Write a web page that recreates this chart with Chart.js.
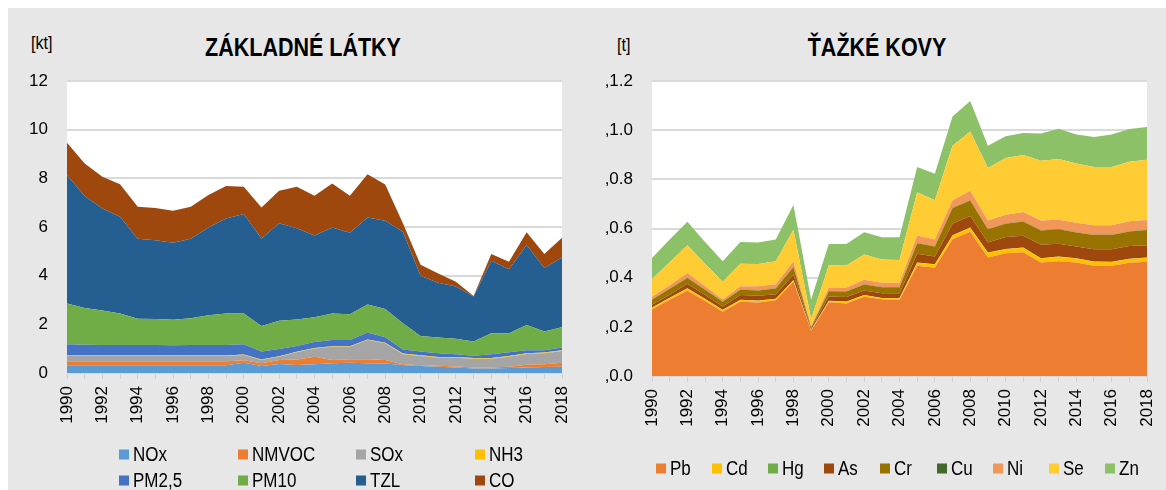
<!DOCTYPE html>
<html>
<head>
<meta charset="utf-8">
<script src="https://cdn.jsdelivr.net/npm/chart.js@4.4.1/dist/chart.umd.min.js"></script>
<style>
  html, body { margin: 0; padding: 0; background: #ffffff; width: 1166px; height: 490px; overflow: hidden; }
  #panel { position: absolute; left: 8px; top: 8px; width: 1158px; height: 482px; background: #e7e7e7; }
  .abs { position: absolute; font-family: "Liberation Sans", Arial, sans-serif; color: #000; white-space: nowrap; }
  .title { font-weight: bold; font-size: 25px; transform: translate(-50%, -50%) scaleX(0.86); }
  .unit { font-size: 19px; transform-origin: left center; transform: translateY(-50%) scaleX(0.85); }
  canvas { position: absolute; }
  .leg { position: absolute; font-family: "Liberation Sans", Arial, sans-serif; font-size: 20px; color: #000; display: flex; align-items: center; white-space: nowrap; transform: translateY(-50%); }
  .leg i { display: inline-block; width: 10px; height: 10px; margin-right: 4px; flex: none; }
  .leg span { display: inline-block; transform-origin: left center; transform: scaleX(0.85); }
</style>
</head>
<body>
<div id="panel"></div>
<div class="abs unit" style="left:31px; top:43px;">[kt]</div>
<div class="abs title" style="left:303px; top:47px;">ZÁKLADNÉ LÁTKY</div>
<div class="abs unit" style="left:617px; top:45px;">[t]</div>
<div class="abs title" style="left:877px; top:47px;">ŤAŽKÉ KOVY</div>
<canvas id="c1" width="572" height="385" style="left:8px; top:60px; width:572px; height:385px;"></canvas>
<canvas id="c2" width="581" height="385" style="left:585px; top:60px; width:581px; height:385px;"></canvas>
<div id="legends"></div>
<script>
const years = ['1990','1991','1992','1993','1994','1995','1996','1997','1998','1999','2000','2001','2002','2003','2004','2005','2006','2007','2008','2009','2010','2011','2012','2013','2014','2015','2016','2017','2018'];

// Left chart: ZÁKLADNÉ LÁTKY [kt]
const nox   = [.32,.32,.32,.32,.32,.32,.32,.32,.32,.32,.42,.29,.37,.33,.36,.40,.42,.40,.39,.33,.29,.26,.23,.18,.18,.21,.23,.25,.26];
const nmvoc = [.16,.16,.16,.16,.16,.16,.16,.16,.16,.16,.10,.11,.16,.22,.31,.13,.14,.16,.14,.03,.03,.04,.04,.05,.05,.05,.11,.11,.16];
const sox   = [.22,.22,.22,.22,.22,.22,.22,.22,.22,.22,.22,.13,.14,.30,.34,.55,.52,.80,.69,.41,.38,.33,.36,.36,.36,.41,.44,.45,.48];
const nh3   = [.02,.02,.02,.02,.02,.02,.02,.02,.02,.02,.02,.02,.02,.02,.02,.02,.02,.02,.02,.03,.03,.03,.03,.03,.03,.03,.03,.03,.03];
const pm25  = [.46,.44,.43,.43,.43,.43,.42,.43,.43,.43,.42,.33,.30,.24,.24,.26,.26,.28,.23,.17,.15,.15,.11,.09,.15,.15,.13,.10,.12];
const pm10  = [1.68,1.51,1.42,1.30,1.08,1.07,1.05,1.10,1.22,1.30,1.27,1.05,1.16,1.09,1.02,1.09,1.05,1.15,1.16,1.07,.64,.65,.64,.58,.86,.78,1.03,.77,.83];
const tzl   = [5.27,4.60,4.19,3.97,3.29,3.24,3.16,3.27,3.61,3.90,4.08,3.60,4.00,3.75,3.36,3.53,3.35,3.58,3.63,3.76,2.48,2.25,2.14,1.85,2.98,2.63,3.29,2.60,2.87];
const co    = [1.33,1.34,1.30,1.34,1.31,1.32,1.32,1.31,1.33,1.33,1.12,1.27,1.34,1.70,1.63,1.81,1.52,1.78,1.49,.35,.45,.38,.20,.02,.28,.31,.52,.58,.81];

// Right chart: ŤAŽKÉ KOVY [t]
const pb = [.271,.310,.347,.305,.261,.302,.299,.308,.383,.184,.300,.295,.322,.312,.309,.448,.440,.556,.587,.482,.499,.503,.462,.467,.462,.448,.448,.461,.465];
const cd = [.007,.007,.009,.008,.007,.007,.007,.005,.007,.003,.005,.007,.007,.004,.007,.013,.014,.016,.016,.019,.017,.019,.016,.018,.016,.017,.016,.015,.016];
const hg = [.001,.001,.001,.001,.001,.001,.001,.001,.001,.001,.001,.001,.001,.001,.001,.001,.001,.001,.001,.001,.001,.001,.001,.001,.001,.001,.001,.001,.001];
const as = [.011,.013,.018,.015,.014,.019,.019,.019,.021,.005,.017,.018,.018,.020,.020,.035,.031,.046,.047,.041,.048,.048,.055,.052,.048,.050,.051,.052,.050];
const cr = [.020,.024,.024,.022,.019,.022,.022,.023,.031,.004,.022,.023,.024,.024,.024,.043,.041,.064,.063,.054,.054,.057,.058,.059,.057,.058,.058,.059,.062];
const cu = [.001,.001,.001,.001,.001,.001,.001,.001,.001,.001,.001,.001,.001,.001,.001,.001,.001,.001,.001,.001,.001,.001,.001,.001,.001,.001,.001,.001,.001];
const ni = [.011,.013,.019,.013,.008,.013,.016,.016,.023,.004,.014,.015,.019,.017,.017,.031,.027,.031,.039,.035,.036,.038,.040,.038,.038,.038,.038,.040,.040];
const se = [.073,.094,.113,.092,.072,.092,.091,.094,.128,.030,.089,.089,.102,.095,.093,.175,.160,.222,.241,.213,.231,.232,.243,.247,.241,.237,.237,.243,.245];
const zn = [.085,.092,.095,.088,.084,.088,.087,.088,.101,.079,.088,.088,.091,.090,.092,.103,.108,.119,.124,.091,.088,.089,.110,.123,.118,.122,.132,.133,.133];

const leftTickLabels  = ['0','2','4','6','8','10','12'];
const rightTickLabels = [',0.0',',0.2',',0.4',',0.6',',0.8',',1.0',',1.2'];

const leftSeries = [
  ['NOx', nox, '#5b9bd5'], ['NMVOC', nmvoc, '#ed7d31'], ['SOx', sox, '#a5a5a5'], ['NH3', nh3, '#ffc000'],
  ['PM2,5', pm25, '#4472c4'], ['PM10', pm10, '#70ad47'], ['TZL', tzl, '#255e91'], ['CO', co, '#9e480e']
];
const rightSeries = [
  ['Pb', pb, '#ed7d31'], ['Cd', cd, '#ffc000'], ['Hg', hg, '#70ad47'], ['As', as, '#9e480e'], ['Cr', cr, '#997300'],
  ['Cu', cu, '#43682b'], ['Ni', ni, '#f1975a'], ['Se', se, '#ffcd33'], ['Zn', zn, '#8cc168']
];

const FONT = '"Liberation Sans", Arial, sans-serif';

const plotBg = {
  id: 'plotBg',
  beforeDraw(chart) {
    const a = chart.chartArea, ctx = chart.ctx;
    ctx.save();
    ctx.fillStyle = '#ffffff';
    ctx.fillRect(a.left, a.top, a.right - a.left, a.bottom - a.top);
    ctx.restore();
  }
};

function makeChart(id, series, max, step, tickLabels, yWidth, xHeight, padRight, padTop) {
  return new Chart(document.getElementById(id), {
    type: 'line',
    data: {
      labels: years,
      datasets: series.map((s, i) => ({
        label: s[0], data: s[1],
        backgroundColor: s[2], borderColor: s[2], borderWidth: 0,
        pointRadius: 0, tension: 0, fill: i === 0 ? 'origin' : '-1'
      }))
    },
    options: {
      responsive: false, animation: false,
      layout: { padding: { top: padTop, right: padRight, left: 0, bottom: 0 } },
      plugins: { legend: { display: false }, tooltip: { enabled: false } },
      scales: {
        x: {
          grid: { drawOnChartArea: false, drawTicks: true, tickLength: 6, color: '#d0d0d0', lineWidth: 1 },
          border: { display: true, color: '#d9d9d9', width: 1 },
          ticks: {
            autoSkip: false, maxRotation: 90, minRotation: 90, padding: 7,
            color: '#000', font: { family: FONT, size: 17 },
            callback: (v, i) => (i % 2 === 0 ? years[i] : '')
          },
          afterFit(scale) { scale.height = xHeight; scale.paddingLeft = 0; scale.paddingRight = 0; }
        },
        y: {
          stacked: true, min: 0, max: max,
          grid: { color: '#d9d9d9', lineWidth: 2, drawTicks: false },
          border: { display: false },
          ticks: {
            stepSize: step, padding: 19, color: '#000', font: { family: FONT, size: 17 },
            callback: (v) => tickLabels[Math.round(v / step)]
          },
          afterFit(scale) { scale.width = yWidth; scale.paddingTop = 0; scale.paddingBottom = 0; }
        }
      }
    },
    plugins: [plotBg]
  });
}

makeChart('c1', leftSeries, 12, 2, leftTickLabels, 59, 72, 18, 21);
makeChart('c2', rightSeries, 1.2, 0.2, rightTickLabels, 67, 69, 19, 21);

// HTML legends built from the series lists
const legends = document.getElementById('legends');
function addLegend(s, x, y) {
  const d = document.createElement('div');
  d.className = 'leg';
  d.style.left = x + 'px';
  d.style.top = y + 'px';
  const box = document.createElement('i');
  box.style.background = s[2];
  const txt = document.createElement('span');
  txt.textContent = s[0];
  d.appendChild(box); d.appendChild(txt);
  legends.appendChild(d);
}
leftSeries.forEach((s, i) => addLegend(s, 119 + 118.5 * (i % 4), i < 4 ? 454 : 480));
rightSeries.forEach((s, i) => addLegend(s, 656 + 56.1 * i, 468));
</script>
</body>
</html>
